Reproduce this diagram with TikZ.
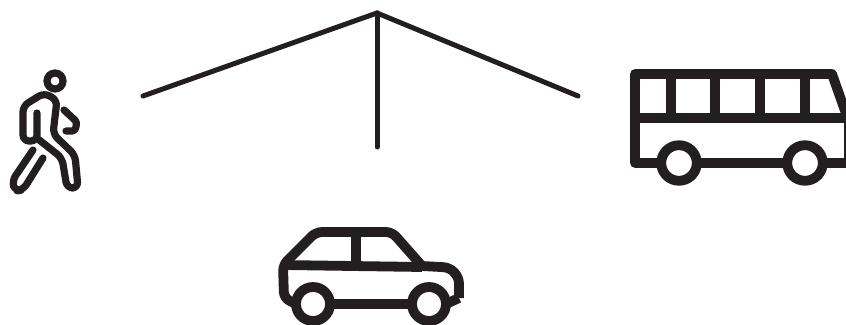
\documentclass[tikz,border=0pt]{standalone}
\usepackage{tikz}
\usetikzlibrary{arrows.meta,positioning,calc}

\definecolor{inkc}{RGB}{35,31,32}
\tikzset{
  branch/.style={draw=inkc,line width=5pt,line cap=round,line join=round},
  icon/.style={draw=inkc,line width=9.8pt,line join=round},
  walker/.style={draw=inkc,line width=7.2pt,line cap=round,line join=round,rounded corners=3pt},
}

\begin{document}
\begin{tikzpicture}[x=1pt,y=-1pt]
\useasboundingbox (0,0) rectangle (846,324);
\clip (0,0) rectangle (846,324);
% branches
\coordinate (R) at (377,13);
\coordinate (E1) at (143,96);
\coordinate (E2) at (377,147);
\coordinate (E3) at (578,96);
\foreach \p in {E1,E2,E3}
  {\draw[branch] (R) -- (\p);}
% pedestrian
\draw[walker] (55,81) circle (8);
\draw[walker,rounded corners=6pt] (37,113) -- (37,141) -- (23,141) -- (23,106) -- (44,93) -- (57,100)
  -- (53,134) -- (75,155) -- (78,188) -- (67,188) -- (62,158) -- (38,139);
\draw[walker] (64,110) -- (77,122) -- (75,131) -- (66,131);
\draw[walker,rounded corners=6pt] (33,150) -- (12,181) -- (15,191) -- (23,190) -- (43,158);
% bus
\draw[icon] (658,163) -- (635,163) -- (635,74) -- (832,74) -- (849,122) -- (849,163) -- (826,163);
\draw[icon] (701,163) -- (783,163);
\draw[icon] (635,118) -- (846,118);
\foreach \x in {671,715,760,805}
  {\draw[icon] (\x,74) -- (\x,118);}
\foreach \x in {679,805}
  {\draw[icon] (\x,163) circle (17.8);}
% car
\draw[icon,rounded corners=6pt] (296,304) -- (284,298) -- (283,265) -- (316,232) -- (392,232) -- (422,266);
\draw[icon,rounded corners=16pt] (422,266) -- (459,268) -- (459,298);
\draw[icon] (459,298) -- (446,304);
\draw[icon] (283,265) -- (422,267);
\draw[icon] (356,232) -- (356,266);
\draw[icon] (330,304) -- (412,304);
\foreach \x in {313,429}
  {\draw[icon] (\x,304) circle (17);}
\end{tikzpicture}
\end{document}
